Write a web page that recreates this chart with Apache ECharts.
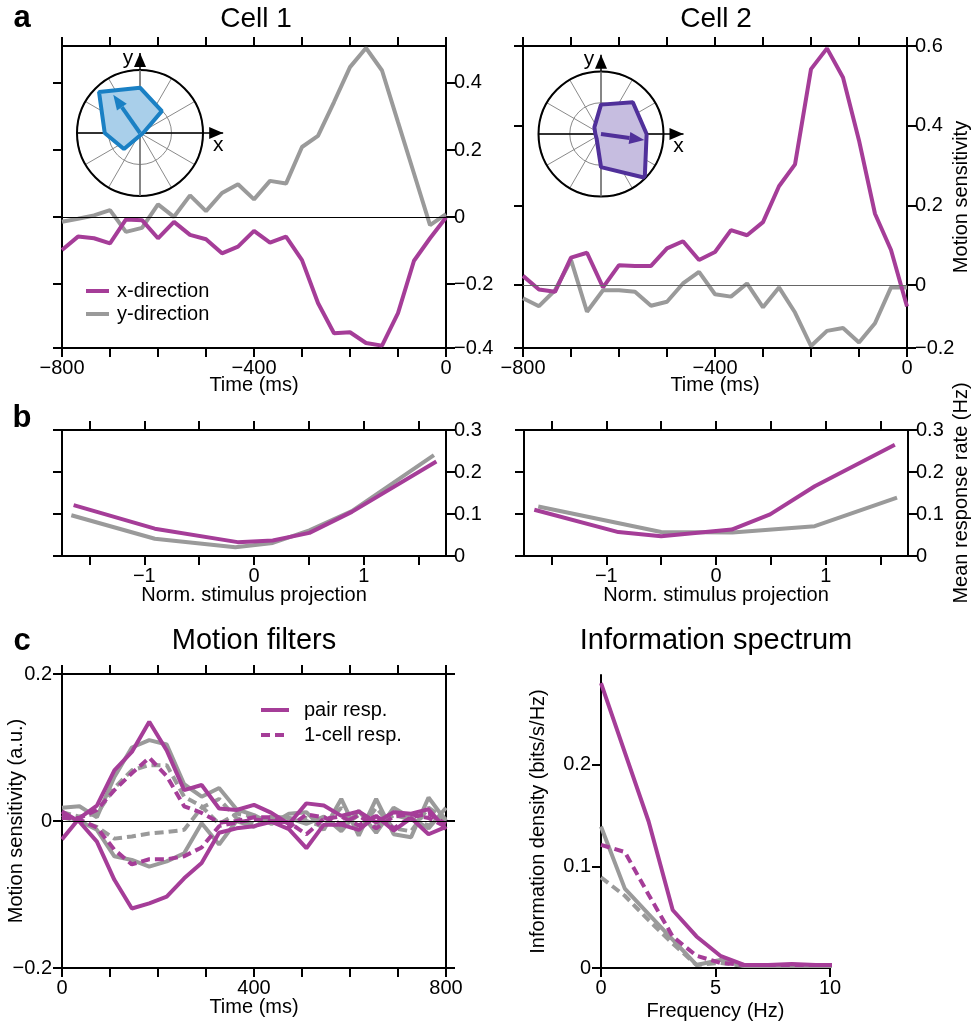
<!DOCTYPE html>
<html>
<head>
<meta charset="utf-8">
<script src="https://cdn.jsdelivr.net/npm/echarts@6/dist/echarts.min.js"></script>
<style>
  html, body { margin: 0; padding: 0; background: #fff; }
  #chart { width: 974px; height: 1022px; }
</style>
</head>
<body>
<div id="chart"></div>
<script>
// ---- data ----
// a: motion sensitivity, 25 samples from -800 to 0 ms
const timeA = [-800, -766.7, -733.3, -700, -666.7, -633.3, -600, -566.7, -533.3, -500, -466.7, -433.3,
  -400, -366.7, -333.3, -300, -266.7, -233.3, -200, -166.7, -133.3, -100, -66.7, -33.3, 0]
const cell1X = [-0.098, -0.058, -0.063, -0.078, -0.007, -0.009, -0.063, -0.014, -0.053, -0.066, -0.108, -0.088,
  -0.041, -0.076, -0.058, -0.128, -0.256, -0.346, -0.343, -0.375, -0.383, -0.286, -0.130, -0.063, -0.001]
const cell1Y = [-0.014, -0.005, 0.005, 0.021, -0.044, -0.032, 0.038, 0.001, 0.065, 0.018, 0.072, 0.098,
  0.053, 0.108, 0.100, 0.209, 0.242, 0.343, 0.447, 0.504, 0.437, 0.283, 0.130, -0.024, 0.009]
const cell2X = [0.023, -0.011, -0.017, 0.069, 0.081, -0.006, 0.050, 0.048, 0.048, 0.092, 0.110, 0.063,
  0.083, 0.138, 0.125, 0.158, 0.248, 0.303, 0.542, 0.594, 0.521, 0.363, 0.179, 0.088, -0.054]
const cell2Y = [-0.033, -0.053, -0.013, 0.063, -0.067, -0.013, -0.013, -0.017, -0.052, -0.042, 0.004, 0.033,
  -0.023, -0.029, 0.004, -0.056, -0.006, -0.069, -0.153, -0.115, -0.108, -0.144, -0.096, -0.006, -0.006]
const timeLabelsA = [-800, -400, 0]
// right axis ticks of panel a (bottom tick sits at the frame edge)
const ticksA1 = [-0.39, -0.2, 0, 0.2, 0.4]
const labelsA1 = ['−0.4', '−0.2', '0', '0.2', '0.4']
const ticksA2 = [-0.158, 0, 0.2, 0.4, 0.6]
const labelsA2 = ['−0.2', '0', '0.2', '0.4', '0.6']

// polar insets: direction tuning
const dirAngles = [0, 45, 90, 135, 180, 225, 270, 315, 360]
const cell1Tuning = [0.05, 0.49, 0.72, 0.92, 0.56, 0.36, 0.04, 0.04, 0.05]
const cell2Tuning = [0.73, 0.72, 0.47, 0.15, 0.09, 0.10, 0.53, 0.99, 0.73]
const cell1Pref = [0.74, 125]
const cell2Pref = [0.70, 352]

// b: mean response rate vs normalised stimulus projection
const projC1X = [-1.644, -0.904, -0.149, 0.171, 0.505, 0.892, 1.662]
const rateC1X = [0.121, 0.065, 0.033, 0.037, 0.055, 0.105, 0.225]
const projC1Y = [-1.665, -0.904, -0.17, 0.171, 0.505, 0.892, 1.64]
const rateC1Y = [0.097, 0.041, 0.021, 0.031, 0.061, 0.107, 0.240]
const projC2X = [-1.656, -0.89, -0.5, 0.143, 0.493, 0.9, 1.63]
const rateC2X = [0.110, 0.057, 0.047, 0.063, 0.099, 0.166, 0.265]
const projC2Y = [-1.62, -0.5, 0.15, 0.9, 1.65]
const rateC2Y = [0.118, 0.057, 0.056, 0.071, 0.139]
const projTicks = [-1.5, -1, -0.5, 0, 0.5, 1, 1.5]
const projLabels = [-1, 0, 1]

// c: motion filters, 23 samples 0..800 ms
const timeC = [0, 36.4, 72.7, 109.1, 145.5, 181.8, 218.2, 254.5, 290.9, 327.3, 363.6, 400,
  436.4, 472.7, 509.1, 545.5, 581.8, 618.2, 654.5, 690.9, 727.3, 763.6, 800]
const timeLabelsC = [0, 400, 800]
const pairUp = [-0.025, 0.004, 0.021, 0.069, 0.094, 0.135, 0.096, 0.042, 0.049, 0.017, 0.015, 0.022,
  0.011, -0.004, 0.024, 0.021, 0.007, 0.013, -0.002, 0.012, 0.010, 0.016, -0.011]
const pairDown = [0.013, -0.001, -0.028, -0.080, -0.119, -0.112, -0.103, -0.078, -0.057, -0.016, -0.010, -0.007,
  -0.001, -0.011, -0.037, -0.005, -0.005, -0.012, 0.007, -0.013, 0.004, -0.018, -0.008]
const oneUp = [0.004, 0.004, 0.015, 0.042, 0.065, 0.086, 0.061, 0.020, 0.011, -0.002, 0.000, 0.005,
  0.005, -0.009, 0.009, 0.005, -0.004, 0.008, -0.010, 0.006, 0.009, 0.004, -0.008]
const oneDown = [0.008, 0.002, -0.009, -0.039, -0.059, -0.052, -0.052, -0.048, -0.036, -0.007, -0.002, 0.002,
  0.000, -0.002, -0.018, 0.003, 0.006, -0.006, 0.007, -0.010, 0.005, 0.010, -0.004]
const greyUp = [0.018, 0.020, 0.005, 0.060, 0.100, 0.110, 0.104, 0.050, 0.033, 0.045, 0.016, 0.008,
  -0.004, 0.010, 0.012, -0.012, 0.030, -0.020, 0.030, -0.018, -0.022, 0.032, 0.000]
const greyDown = [0.008, 0.000, -0.012, -0.048, -0.053, -0.062, -0.055, -0.044, -0.003, -0.032, 0.000, -0.008,
  0.006, 0.004, -0.004, 0.006, -0.014, 0.014, -0.016, 0.018, 0.004, -0.010, 0.018]
const greyOneUp = [0.012, 0.006, 0.010, 0.045, 0.069, 0.076, 0.076, 0.033, 0.020, -0.004, 0.010, 0.006,
  0.000, 0.004, 0.000, -0.008, 0.018, -0.014, 0.018, -0.010, -0.014, 0.018, 0.002]
const greyOneDown = [0.005, 0.000, -0.008, -0.024, -0.021, -0.017, -0.015, -0.012, 0.018, 0.030, 0.004, -0.004,
  0.004, -0.002, 0.004, 0.002, -0.008, 0.008, -0.008, 0.008, 0.002, -0.006, 0.008]

// c: information spectrum
const freq = [0, 1.04, 2.08, 3.13, 4.17, 5.21, 6.25, 7.29, 8.33, 9.38, 10.42]
const infoPair = [0.280, 0.212, 0.144, 0.057, 0.031, 0.012, 0.003, 0.003, 0.004, 0.003, 0.003]
const infoOne = [0.121, 0.114, 0.072, 0.031, 0.012, 0.005, 0.003, 0.003, 0.003, 0.003, 0.003]
const infoPairGrey = [0.139, 0.078, 0.053, 0.028, 0.003, 0.008, 0.002, 0.002, 0.002, 0.002, 0.002]
const infoOneGrey = [0.089, 0.071, 0.047, 0.024, 0.003, 0.005, 0.002, 0.002, 0.002, 0.002, 0.002]
const infoTicks = [0, 0.1, 0.2]

// ---- styling ----
const purple = '#a53d98'
const grey = '#9a9a9a'
const lw = 4
const dash = [9, 5]
const font = 'Liberation Sans, Arial, sans-serif'
const fs = 20

const zip = (xs, ys) => xs.map((x, i) => [x, ys[i]])
const minus = v => (v < 0 ? '−' : '') + Math.abs(v)
const pick = (ticks, labels) => v => {
  let best = 0
  ticks.forEach((t, i) => { if (Math.abs(t - v) < Math.abs(ticks[best] - v)) best = i })
  return labels[best]
}

const spine = { show: true, onZero: false, lineStyle: { color: '#000', width: 2 } }
const tick = { show: true, length: 9, lineStyle: { color: '#000', width: 2 } }
const lab = { color: '#000', fontSize: fs, fontFamily: font, hideOverlap: false }
const nameStyle = { color: '#000', fontSize: fs, fontFamily: font }
const withTicks = vals => Object.assign({ customValues: vals }, tick)
const withLabels = (vals, fmt, margin) => Object.assign({ customValues: vals, formatter: fmt || minus, margin: margin || 10 }, lab)

function xAx (grid, min, max, opt) {
  return Object.assign({
    type: 'value', gridIndex: grid, min: min, max: max, position: 'bottom',
    axisLine: spine, axisTick: tick, splitLine: { show: false },
    axisLabel: Object.assign({ margin: 10, formatter: minus }, lab),
    nameLocation: 'middle', nameMoveOverlap: false, nameTextStyle: nameStyle
  }, opt)
}
function yAx (grid, min, max, opt) {
  return Object.assign({
    type: 'value', gridIndex: grid, min: min, max: max, position: 'left',
    axisLine: spine, axisTick: tick, splitLine: { show: false },
    axisLabel: Object.assign({ margin: 10, formatter: minus }, lab),
    nameLocation: 'middle', nameRotate: 90, nameMoveOverlap: false, nameTextStyle: nameStyle
  }, opt)
}
const noLabel = { show: false }

function line (name, data, color, xi, yi, type) {
  return {
    name: name, type: 'line', data: data, xAxisIndex: xi, yAxisIndex: yi,
    symbol: 'none', smooth: false, silent: true,
    lineStyle: { color: color, width: lw, type: type || 'solid' },
    itemStyle: { color: color }
  }
}
function zeroLine (s, color) {
  s.markLine = {
    silent: true, symbol: 'none', label: { show: false },
    lineStyle: { color: color, width: 1, type: 'solid' },
    data: [{ yAxis: 0 }]
  }
  return s
}

// arrow helpers for the polar insets
function headPts (tip, from, len, half) {
  const dx = tip[0] - from[0], dy = tip[1] - from[1]
  const d = Math.hypot(dx, dy)
  const ux = dx / d, uy = dy / d
  const bx = tip[0] - ux * len, by = tip[1] - uy * len
  return [tip, [bx - uy * half, by + ux * half], [bx + uy * half, by - ux * half]]
}
function prefArrow (color) {
  return function (params, api) {
    const o = api.coord([0, 0])
    const t = api.coord([api.value(0), api.value(1)])
    const h = headPts(t, o, 15, 6)
    const base = [(h[1][0] + h[2][0]) / 2, (h[1][1] + h[2][1]) / 2]
    return {
      type: 'group',
      children: [
        { type: 'line', shape: { x1: o[0], y1: o[1], x2: base[0], y2: base[1] }, style: { stroke: color, lineWidth: 4 } },
        { type: 'polygon', shape: { points: h }, style: { fill: color } }
      ]
    }
  }
}
const axisArrowData = [[1.32, 0], [1.27, 90]]
const axisArrowNames = ['x', 'y']
function axisArrow (params, api) {
  const ang = api.value(1)
  const tip = api.coord([api.value(0), ang])
  const start = api.coord([1, ang + 180])
  const rim = api.coord([1, ang])
  const h = headPts(tip, start, 14, 6)
  const isX = params.dataIndex === 0
  const off = isX ? [-5, 12] : [-12, 5]
  const children = [
    { type: 'polygon', shape: { points: h }, style: { fill: '#000' } },
    { type: 'text', x: tip[0] + off[0], y: tip[1] + off[1],
      style: { text: axisArrowNames[params.dataIndex], fill: '#000', font: '21px ' + font, align: 'center', verticalAlign: 'middle' } }
  ]
  if (isX) {
    children.unshift({ type: 'line', shape: { x1: start[0], y1: start[1], x2: tip[0], y2: tip[1] }, style: { stroke: '#000', lineWidth: 1.5 } })
  } else {
    children.unshift({ type: 'line', shape: { x1: start[0], y1: start[1], x2: rim[0], y2: rim[1] }, style: { stroke: '#707070', lineWidth: 1.5 } })
    children.unshift({ type: 'line', shape: { x1: rim[0], y1: rim[1], x2: tip[0], y2: tip[1] }, style: { stroke: '#000', lineWidth: 1.5 } })
  }
  return { type: 'group', children: children }
}

const polarAngle = i => ({
  polarIndex: i, type: 'value', min: 0, max: 360, interval: 30, startAngle: 0, clockwise: false,
  axisLine: { show: true, lineStyle: { color: '#000', width: 2 } },
  axisTick: { show: false }, axisLabel: { show: false },
  splitLine: { show: true, lineStyle: { color: '#8a8a8a', width: 1 } }
})
const polarRadius = i => ({
  polarIndex: i, type: 'value', min: 0, max: 1, interval: 0.5,
  axisLine: { show: false }, axisTick: { show: false }, axisLabel: { show: false },
  splitLine: { show: true, lineStyle: { color: '#8a8a8a', width: 1 } }
})
function tuningPoly (i, tuning, stroke, fill) {
  return {
    type: 'line', coordinateSystem: 'polar', polarIndex: i, symbol: 'none', silent: true,
    data: dirAngles.map((a, k) => [tuning[k], a]),
    lineStyle: { color: stroke, width: 4 },
    areaStyle: { color: fill, opacity: 1 },
    z: 5
  }
}
const legendBase = {
  orient: 'vertical', selectedMode: false, itemHeight: 16, padding: 0,
  itemStyle: { opacity: 0 },
  lineStyle: { width: 4 }
}
const legendText = pad => ({ fontSize: fs, color: '#000', fontFamily: font, padding: [0, 0, 0, pad] })
const txt = (x, y, s, f) => ({ type: 'text', x: x, y: y, style: { text: s, font: f, fill: '#000', align: 'center', verticalAlign: 'middle' } })
const box = (left, top, width, height) => ({ left: left, top: top, width: width, height: height, outerBoundsMode: 'none', containLabel: false })

const chart = echarts.init(document.getElementById('chart'), null, { renderer: 'canvas' })

const option = {
  animation: false,
  backgroundColor: '#fff',
  textStyle: { fontFamily: font },
  graphic: [
    txt(22, 18, 'a', 'bold 31px ' + font),
    txt(22, 418, 'b', 'bold 31px ' + font),
    txt(22, 641, 'c', 'bold 31px ' + font),
    txt(256, 19, 'Cell 1', '28px ' + font),
    txt(716, 19, 'Cell 2', '28px ' + font),
    txt(254, 641, 'Motion filters', '29px ' + font),
    txt(716, 641, 'Information spectrum', '29px ' + font)
  ],
  legend: [
    Object.assign({ data: ['x-direction', 'y-direction'], left: 84, top: 281, itemGap: 3, itemWidth: 23, textStyle: legendText(3) }, legendBase),
    Object.assign({ data: ['pair resp.', '1-cell resp.'], left: 259, top: 700, itemGap: 5, itemWidth: 28, textStyle: legendText(10) }, legendBase)
  ],
  polar: [
    { center: [140, 133], radius: 63 },
    { center: [601, 134], radius: 62.5 }
  ],
  angleAxis: [polarAngle(0), polarAngle(1)],
  radiusAxis: [polarRadius(0), polarRadius(1)],
  grid: [
    box(62, 46, 384, 302),
    box(523, 46, 384, 302),
    box(62, 430, 384, 126),
    box(524, 430, 384, 126),
    box(62, 674, 384, 294),
    box(601, 675, 229, 293)
  ],
  xAxis: [
    xAx(0, -800, 0, { interval: 100, axisLabel: withLabels(timeLabelsA), name: 'Time (ms)', nameGap: 27 }),
    xAx(0, -800, 0, { interval: 100, position: 'top', axisLabel: noLabel }),
    xAx(1, -800, 0, { interval: 100, axisLabel: withLabels(timeLabelsA), name: 'Time (ms)', nameGap: 27 }),
    xAx(1, -800, 0, { interval: 100, position: 'top', axisLabel: noLabel }),
    xAx(2, -1.75, 1.75, { axisTick: withTicks(projTicks), axisLabel: withLabels(projLabels), name: 'Norm. stimulus projection', nameGap: 29 }),
    xAx(2, -1.75, 1.75, { position: 'top', axisTick: withTicks(projTicks), axisLabel: noLabel }),
    xAx(3, -1.75, 1.75, { axisTick: withTicks(projTicks), axisLabel: withLabels(projLabels), name: 'Norm. stimulus projection', nameGap: 29 }),
    xAx(3, -1.75, 1.75, { position: 'top', axisTick: withTicks(projTicks), axisLabel: noLabel }),
    xAx(4, 0, 800, { interval: 100, axisLabel: withLabels(timeLabelsC, minus, 10), name: 'Time (ms)', nameGap: 29 }),
    xAx(4, 0, 800, { interval: 100, position: 'top', axisLabel: noLabel }),
    xAx(5, 0, 10, { interval: 5, name: 'Frequency (Hz)', nameGap: 33 })
  ],
  yAxis: [
    yAx(0, -0.39, 0.51, { axisTick: withTicks(ticksA1), axisLabel: noLabel }),
    yAx(0, -0.39, 0.51, { position: 'right', axisTick: withTicks(ticksA1), axisLabel: withLabels(ticksA1, pick(ticksA1, labelsA1), 8) }),
    yAx(1, -0.158, 0.6, { axisTick: withTicks(ticksA2), axisLabel: noLabel }),
    yAx(1, -0.158, 0.6, { position: 'right', axisTick: withTicks(ticksA2), axisLabel: withLabels(ticksA2, pick(ticksA2, labelsA2), 8), name: 'Motion sensitivity', nameGap: 44 }),
    yAx(2, 0, 0.3, { interval: 0.1, axisLabel: noLabel }),
    yAx(2, 0, 0.3, { interval: 0.1, position: 'right', axisLabel: Object.assign({ margin: 8, formatter: minus }, lab) }),
    yAx(3, 0, 0.3, { interval: 0.1, axisLabel: noLabel }),
    yAx(3, 0, 0.3, { interval: 0.1, position: 'right', axisLabel: Object.assign({ margin: 8, formatter: minus }, lab), name: 'Mean response rate (Hz)', nameGap: 43 }),
    yAx(4, -0.2, 0.2, { interval: 0.2, name: 'Motion sensitivity (a.u.)', nameGap: 36 }),
    yAx(4, -0.2, 0.2, { interval: 0.2, position: 'right', axisLabel: noLabel }),
    yAx(5, 0, 0.288, { axisTick: withTicks(infoTicks), axisLabel: withLabels(infoTicks), name: 'Information density (bits/s/Hz)', nameGap: 53 })
  ],
  series: [
    // a, cell 1
    zeroLine(line('y-direction', zip(timeA, cell1Y), grey, 0, 1), '#000'),
    line('x-direction', zip(timeA, cell1X), purple, 0, 1),
    // a, cell 2
    zeroLine(line('y-direction', zip(timeA, cell2Y), grey, 2, 3), '#666'),
    line('x-direction', zip(timeA, cell2X), purple, 2, 3),
    // polar insets
    tuningPoly(0, cell1Tuning, '#1a80c4', '#a9cfea'),
    tuningPoly(1, cell2Tuning, '#50309a', '#c6bde0'),
    { type: 'custom', coordinateSystem: 'polar', polarIndex: 0, data: [cell1Pref], renderItem: prefArrow('#1a80c4'), z: 6, silent: true },
    { type: 'custom', coordinateSystem: 'polar', polarIndex: 1, data: [cell2Pref], renderItem: prefArrow('#50309a'), z: 6, silent: true },
    { type: 'custom', coordinateSystem: 'polar', polarIndex: 0, data: axisArrowData, renderItem: axisArrow, z: 4, silent: true },
    { type: 'custom', coordinateSystem: 'polar', polarIndex: 1, data: axisArrowData, renderItem: axisArrow, z: 4, silent: true },
    // b
    line('y-direction', zip(projC1Y, rateC1Y), grey, 4, 5),
    line('x-direction', zip(projC1X, rateC1X), purple, 4, 5),
    line('y-direction', zip(projC2Y, rateC2Y), grey, 6, 7),
    line('x-direction', zip(projC2X, rateC2X), purple, 6, 7),
    // c, motion filters
    zeroLine(line('grey pair', zip(timeC, greyUp), grey, 8, 8), '#000'),
    line('grey pair', zip(timeC, greyDown), grey, 8, 8),
    line('grey 1-cell', zip(timeC, greyOneUp), grey, 8, 8, dash),
    line('grey 1-cell', zip(timeC, greyOneDown), grey, 8, 8, dash),
    line('1-cell resp.', zip(timeC, oneUp), purple, 8, 8, dash),
    line('1-cell resp.', zip(timeC, oneDown), purple, 8, 8, dash),
    line('pair resp.', zip(timeC, pairUp), purple, 8, 8),
    line('pair resp.', zip(timeC, pairDown), purple, 8, 8),
    // c, information spectrum
    line('grey info 1-cell', zip(freq, infoOneGrey), grey, 10, 10, dash),
    line('grey info pair', zip(freq, infoPairGrey), grey, 10, 10),
    line('info 1-cell', zip(freq, infoOne), purple, 10, 10, dash),
    line('info pair', zip(freq, infoPair), purple, 10, 10)
  ]
}

chart.setOption(option)
</script>
</body>
</html>
